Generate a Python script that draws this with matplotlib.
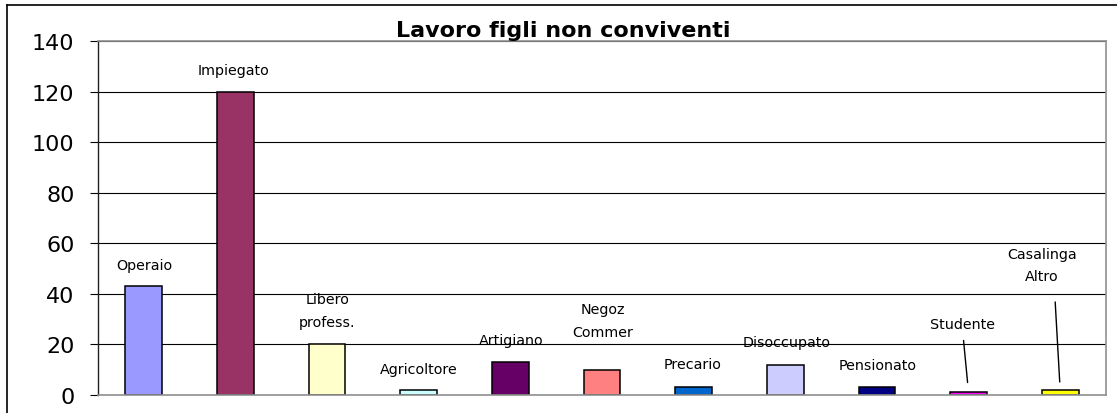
import matplotlib
matplotlib.use("Agg")
import matplotlib.pyplot as plt
from matplotlib.lines import Line2D

# ---- data ----
categories = ["Operaio", "Impiegato", "Libero\nprofess.", "Agricoltore", "Artigiano",
              "Negoz\nCommer", "Precario", "Disoccupato", "Pensionato", "Studente",
              "Casalinga\nAltro"]
values = [43, 120, 20, 2, 13, 10, 3, 12, 3, 1, 2]
colors = ["#9999FF", "#993366", "#FFFFCC", "#CCFFFF", "#660066", "#FF8080",
          "#0066CC", "#CCCCFF", "#000080", "#FF00FF", "#FFFF00"]
yticks = [0, 20, 40, 60, 80, 100, 120, 140]
title = "Lavoro figli non conviventi"

# label offsets above bar top (pixels): (dx, dy)
label_offsets = [(0, 21), (-2, 22), (0, 34), (0, 21), (1, 22), (1, 49),
                 (-1, 23), (1, 23), (1, 22), (-6, 68), (-18, 125)]
# leader lines: index -> ((dx_top, dy_top), shrink_bottom_px)
leaders = {9: ((-5, 52), 10), 10: ((-5, 88), 8)}

W, H, DPI = 1117, 414, 100
plt.rcParams['font.family'] = ['DejaVu Sans']
fig = plt.figure(figsize=(W / DPI, H / DPI), dpi=DPI)
fig.patch.set_facecolor("white")

left, right, top, bottom = 98, 1106, 42, 396
ax = fig.add_axes([left / W, (H - bottom) / H, (right - left) / W, (bottom - top) / H])

x = list(range(len(categories)))
ax.bar(x, values, width=0.4, color=colors, edgecolor="black", linewidth=1.1, zorder=3)

ax.set_xlim(-0.5, len(categories) - 0.5)
ax.set_ylim(0, 140)
ax.set_yticks(yticks)
ax.set_yticklabels([str(t) for t in yticks], fontsize=16)
ax.tick_params(axis='y', direction='out', length=6, width=0.8, pad=11, color='black')
ax.set_xticks([])
ax.yaxis.grid(True, color='black', linewidth=0.8, zorder=0)
ax.set_axisbelow(True)
for s in ['top', 'right', 'bottom']:
    ax.spines[s].set_color('#909090')
    ax.spines[s].set_linewidth(1.2)
ax.spines['left'].set_color('#202020')
ax.spines['left'].set_linewidth(1.0)
for sp in ax.spines.values():
    sp.set_zorder(4)

for i, (lab, v) in enumerate(zip(categories, values)):
    dx, dy = label_offsets[i]
    ax.annotate(lab, xy=(i, v), xytext=(dx, dy), textcoords='offset pixels',
                ha='center', va='center', fontsize=10.3, linespacing=1.8, zorder=5)

for i, ((dx, dy), sb) in leaders.items():
    ax.annotate('', xy=(i, values[i]), xytext=(dx, dy), textcoords='offset pixels',
                arrowprops=dict(arrowstyle='-', color='black', lw=1.0,
                                shrinkA=0, shrinkB=sb * 0.72), zorder=5)

fig.text(563 / W, (H - 37.3) / H, title, ha='center', va='baseline',
         fontsize=16, fontweight='bold')

# outer chart border (clipped at right/bottom in reference)
fig.add_artist(Line2D([7.3 / W, 1.0], [1 - 5.5 / H, 1 - 5.5 / H],
                      transform=fig.transFigure, color='black', linewidth=1.2))
fig.add_artist(Line2D([7.3 / W, 7.3 / W], [0.0, 1 - 5.5 / H],
                      transform=fig.transFigure, color='black', linewidth=1.2))

fig.savefig("out.png", dpi=DPI, facecolor="white")
